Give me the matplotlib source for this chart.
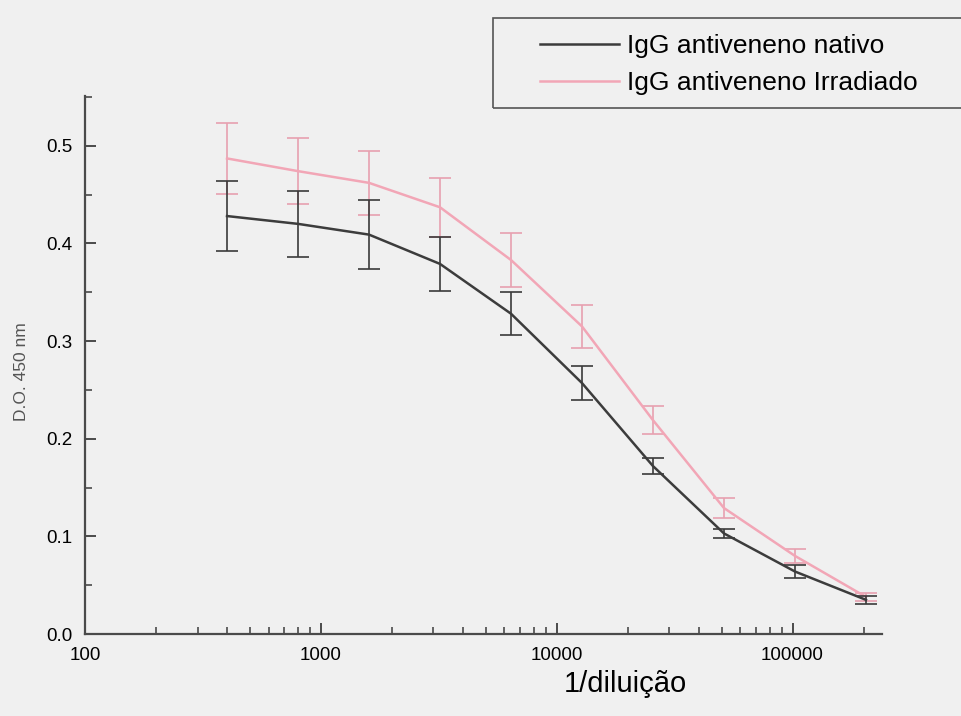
import matplotlib
matplotlib.use("Agg")
import matplotlib.pyplot as plt
from matplotlib.lines import Line2D
from matplotlib.patches import Rectangle
from matplotlib.ticker import FixedLocator, LogLocator, NullFormatter, MultipleLocator

plt.rcParams['font.family'] = ['Liberation Sans', 'DejaVu Sans']

# data
dilution = [400, 800, 1600, 3200, 6400, 12800, 25600, 51200, 102400, 204800]
nativo = [0.428, 0.420, 0.409, 0.379, 0.328, 0.257, 0.172, 0.103, 0.064, 0.035]
nativo_err = [0.036, 0.034, 0.035, 0.028, 0.022, 0.017, 0.008, 0.005, 0.007, 0.004]
irradiado = [0.487, 0.474, 0.462, 0.437, 0.383, 0.315, 0.219, 0.129, 0.080, 0.038]
irradiado_err = [0.036, 0.034, 0.033, 0.030, 0.028, 0.022, 0.014, 0.010, 0.007, 0.004]

labels = ["IgG antiveneno nativo", "IgG antiveneno Irradiado"]
x_ticks = [100, 1000, 10000, 100000]
y_ticks = [0.0, 0.1, 0.2, 0.3, 0.4, 0.5]

bg = "#f0f0f0"
dark = "#3c3c3c"
pink = "#f2a6b6"

fig = plt.figure(figsize=(9.61, 7.16), dpi=100, facecolor=bg)
ax = fig.add_axes([0.0885, 0.1145, 0.8295, 0.7515], facecolor=bg)

ax.errorbar(dilution, irradiado, yerr=irradiado_err, color=pink,
            ecolor="#e7a0b0", lw=1.8, elinewidth=1.2, capsize=8, capthick=1.2,
            zorder=3)
ax.errorbar(dilution, nativo, yerr=nativo_err, color=dark,
            ecolor="#3a3a3a", lw=1.8, elinewidth=1.2, capsize=8, capthick=1.2,
            zorder=4)

ax.set_xscale("log")
ax.set_xlim(100, 240000)
ax.set_ylim(0, 0.551)

ax.xaxis.set_major_locator(FixedLocator(x_ticks))
ax.set_xticklabels([str(v) for v in x_ticks])
ax.xaxis.set_minor_locator(LogLocator(base=10, subs=range(2, 10)))
ax.xaxis.set_minor_formatter(NullFormatter())
ax.yaxis.set_minor_locator(MultipleLocator(0.05))
ax.set_yticks(y_ticks)
ax.set_yticklabels([f"{v:.1f}" for v in y_ticks])

for side in ["top", "right"]:
    ax.spines[side].set_visible(False)
for side in ["left", "bottom"]:
    ax.spines[side].set_color("#4a4a4a")
    ax.spines[side].set_linewidth(1.6)

ax.tick_params(which="major", direction="in", length=8, width=1.4,
               color="#4a4a4a", labelsize=13.5)
ax.tick_params(axis="y", which="major", pad=9)
ax.tick_params(axis="x", which="major", pad=9)
ax.tick_params(which="minor", direction="in", length=5, width=1.2,
               color="#4a4a4a")

ax.set_xlabel("1/diluição", fontsize=21)
ax.xaxis.set_label_coords(0.678, -0.067)
ax.set_ylabel("D.O. 450 nm", fontsize=12.5, color="#555555")
ax.yaxis.set_label_coords(-0.070, 0.487)

# legend box at the top right, running past the figure edge
fig.patches.append(Rectangle((493 / 961, 1 - 108 / 716), 0.6, 90 / 716,
                             transform=fig.transFigure, fill=False,
                             edgecolor="#555555", lw=1.2))
handles = [Line2D([], [], color=dark, lw=1.8), Line2D([], [], color=pink, lw=1.8)]
fig.legend(handles, labels, loc="upper left",
           bbox_to_anchor=(527 / 961, 1 - 21 / 716),
           frameon=False, fontsize=19, handlelength=3.0,
           handletextpad=0.3, labelspacing=0.5, borderpad=0)

fig.savefig("out.png", dpi=100, facecolor=bg)
